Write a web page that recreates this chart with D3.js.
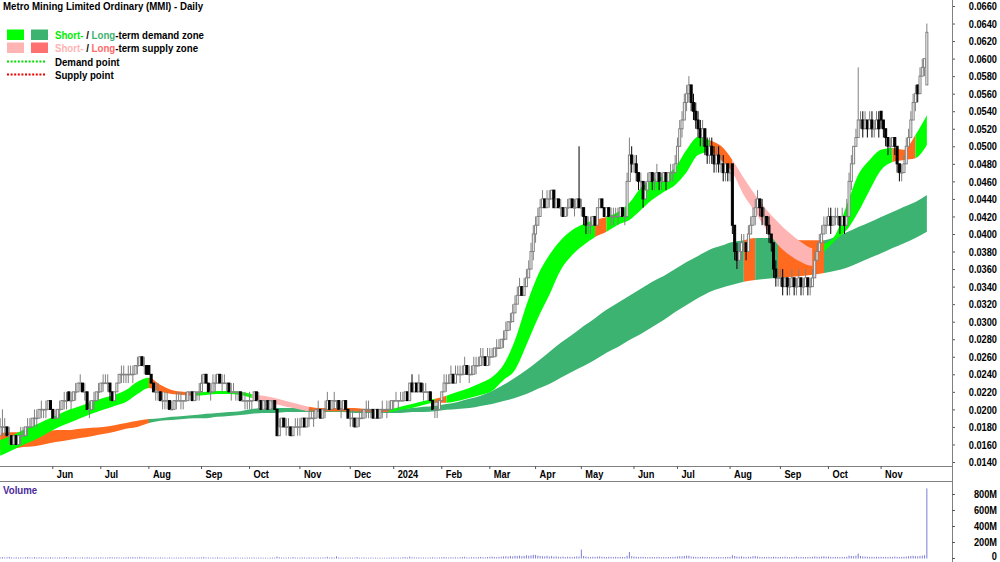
<!DOCTYPE html>
<html>
<head>
<meta charset="UTF-8">
<title>MMI daily</title>
<script src="https://d3js.org/d3.v7.min.js"></script>
<style>
  body { margin: 0; background: #fff; }
  text { font-family: "Liberation Sans", Arial, sans-serif; }
</style>
</head>
<body>
<script>
// prices in thousandths of a dollar (0.001 = 1), one value per trading day, May 2023 - Nov 2024
var openP = [
  17,18,18,18,17,17,16,17,16,17,17,17,18,18,18,19,19,19,20,20,20,20,21,      // May 23
  20,19,19,20,20,21,21,22,21,21,22,22,23,23,22,22,20,20,21,21,22,            // Jun
  22,23,23,23,23,22,21,22,23,24,24,24,24,24,24,24,25,25,26,25,25,            // Jul
  25,24,23,22,22,22,21,21,21,21,20,20,21,21,21,21,21,21,22,22,21,22,22,      // Aug
  22,23,24,23,22,22,23,23,24,23,23,23,23,22,22,22,22,22,21,21,21,            // Sep
  21,21,21,22,21,21,20,21,21,20,21,21,20,17,18,19,18,18,18,17,18,18,         // Oct
  18,18,19,18,19,19,19,19,20,20,19,20,20,21,20,21,21,21,20,20,21,20,         // Nov
  19,19,19,18,19,19,19,20,20,20,20,19,20,19,20,20,20,20,20,                  // Dec
  21,21,21,21,21,21,22,21,23,22,23,22,23,22,22,22,22,21,20,20,20,            // Jan 24
  21,22,23,23,23,24,23,24,24,24,24,25,24,24,24,25,25,25,26,26,25,            // Feb
  26,26,26,27,27,27,28,28,29,30,30,31,32,33,34,33,34,35,36,38,               // Mar
  40,41,42,43,44,43,44,44,45,43,44,43,43,42,43,43,44,43,43,44,               // Apr
  43,43,42,41,41,41,42,41,43,44,43,42,43,42,42,42,42,42,43,42,42,46,49,      // May
  48,48,47,46,46,44,45,46,47,46,46,47,46,46,47,46,47,47,47,                  // Jun
  48,50,52,53,55,56,57,55,54,53,52,51,52,50,49,50,49,48,49,48,48,47,48,      // Jul
  47,48,41,38,37,38,39,39,38,40,41,42,43,44,43,42,42,41,40,39,36,35,         // Aug
  35,35,34,35,34,34,35,34,34,35,34,34,35,34,34,35,37,38,39,40,41,            // Sep
  41,42,41,42,42,42,41,42,41,42,46,48,50,51,53,53,52,53,52,53,52,52,53,      // Oct
  54,53,52,51,50,50,51,50,48,47,47,48,50,51,53,55,57,56,58,59,57             // Nov
];
var highP = [
  19,20,19,18,18,17,17,17,17,18,18,18,19,19,19,20,20,20,21,20,21,21,21,
  20,20,20,21,21,22,22,22,22,22,23,23,24,23,23,22,21,21,22,22,23,
  23,24,24,24,23,22,22,23,24,25,25,24,25,25,25,25,26,26,26,26,25,
  25,24,23,23,23,22,22,22,22,21,21,21,22,22,22,21,22,22,22,22,22,22,23,
  24,24,24,23,23,24,24,24,24,24,24,23,23,23,23,22,22,22,22,22,21,
  22,21,22,22,22,21,21,21,21,21,21,21,20,19,19,19,19,19,18,18,19,19,
  19,19,19,19,20,20,20,20,21,20,20,21,22,21,21,22,21,21,21,21,21,20,
  20,20,19,19,20,20,20,21,21,20,20,20,20,20,21,20,21,21,21,
  21,22,21,22,22,22,22,23,24,23,23,24,23,23,23,22,22,21,21,21,21,
  22,24,24,24,25,24,25,25,25,25,26,25,25,25,26,26,26,27,27,26,27,
  27,27,27,28,28,28,29,30,30,31,32,33,34,35,34,35,36,37,39,41,
  42,43,44,45,44,45,45,45,45,44,44,44,43,43,44,44,44,44,44,50,
  44,43,42,42,42,42,42,43,44,44,43,43,43,43,43,43,43,43,43,43,47,51,50,
  49,49,47,47,46,46,47,47,47,47,48,47,47,47,47,47,48,48,49,
  51,53,54,56,57,58,57,56,55,54,53,53,52,51,51,51,50,50,50,49,49,48,48,
  48,48,41,39,39,40,40,39,41,42,43,44,45,44,44,43,42,42,40,39,37,36,
  36,36,35,35,35,36,35,35,36,35,35,36,35,35,36,38,39,40,41,42,42,
  43,43,42,43,43,42,43,42,44,47,49,50,52,59,54,54,54,53,54,54,53,54,54,
  54,53,52,51,51,51,51,50,48,48,49,51,52,54,56,57,57,59,60,60,64
];
var lowP = [
  17,17,17,17,16,16,16,16,16,16,17,17,17,18,18,18,18,19,19,19,19,20,20,
  19,19,19,19,20,20,20,21,20,21,21,22,22,22,21,20,19,20,20,21,21,
  22,22,23,22,21,21,21,22,23,23,23,23,23,24,23,24,24,25,25,24,24,
  24,23,22,21,21,21,20,20,20,20,20,20,20,21,20,20,21,21,21,21,21,21,21,
  22,23,23,22,21,22,22,23,23,22,23,22,22,21,22,21,21,21,21,20,20,
  20,20,21,21,20,20,20,20,20,20,20,20,17,17,18,18,17,17,17,17,18,17,
  17,18,18,18,18,19,18,19,19,19,19,19,20,20,20,20,20,20,19,20,20,19,
  18,18,18,18,18,19,19,19,19,19,19,19,19,19,19,20,19,20,20,
  20,21,20,21,21,21,21,21,22,22,22,22,22,21,22,21,21,20,19,19,20,
  21,22,22,23,23,23,23,24,23,24,24,24,23,24,24,24,25,25,25,25,25,
  25,26,26,26,27,27,27,28,29,29,30,31,32,33,33,33,34,35,36,37,
  39,41,42,43,43,43,43,44,43,43,43,42,42,42,42,43,43,42,43,43,
  42,41,40,40,40,41,41,41,43,43,42,42,42,41,41,42,41,42,42,41,42,46,47,
  47,46,45,45,43,44,45,46,45,45,46,45,45,46,45,46,46,46,47,
  48,50,51,53,54,55,54,53,52,51,50,50,49,48,48,48,47,47,47,47,46,46,46,
  46,40,37,36,36,37,38,37,38,40,41,41,43,42,41,41,40,39,38,35,34,34,
  34,33,34,33,33,34,33,33,34,33,33,34,33,33,34,35,37,38,39,40,40,
  41,40,41,41,41,40,41,40,41,42,45,48,50,51,52,51,52,51,52,51,51,52,51,
  52,51,50,49,49,50,49,47,46,46,47,48,50,51,53,54,55,56,58,58,57
];
var closeP = [
  18,18,18,17,17,16,17,16,17,17,17,18,18,18,19,19,19,20,20,20,20,21,20,
  19,19,20,20,21,21,21,21,21,22,22,23,23,22,22,20,20,21,21,22,22,
  23,23,23,23,22,21,22,23,24,24,24,24,24,24,24,25,25,26,25,25,24,
  24,23,22,22,22,21,21,21,21,20,20,21,21,21,21,21,21,22,22,21,22,22,22,
  23,24,23,22,22,23,23,24,23,23,23,23,22,22,22,22,22,21,21,21,21,
  21,21,22,21,21,20,21,21,20,21,21,20,17,18,19,18,18,18,17,18,18,18,
  18,19,18,19,19,19,19,20,20,19,20,20,21,20,21,21,21,20,20,21,20,19,
  19,19,18,19,19,19,20,20,20,20,19,20,19,20,20,20,20,20,21,
  21,21,21,21,21,22,21,23,22,23,22,23,22,22,22,22,21,20,20,20,21,
  22,23,23,23,24,23,24,24,24,24,25,24,24,24,25,25,25,26,26,25,26,
  26,26,27,27,27,28,28,29,30,30,31,32,33,34,33,34,35,36,38,40,
  41,42,43,44,43,44,44,45,43,44,43,43,42,43,43,44,43,43,44,43,
  43,42,41,41,41,42,41,43,44,43,42,43,42,42,42,42,42,43,42,42,46,49,48,
  48,47,46,46,44,45,46,47,46,46,47,46,46,47,46,47,47,47,48,
  50,52,53,55,56,57,55,54,53,52,51,52,50,49,50,49,48,49,48,48,47,48,47,
  47,41,38,37,38,39,39,38,40,41,42,43,44,43,42,42,41,40,39,36,35,35,
  35,34,35,34,34,35,34,34,35,34,34,35,34,34,35,37,38,39,40,41,41,
  42,41,42,42,42,41,42,41,42,46,48,50,51,53,53,52,53,52,53,52,52,53,52,
  53,52,51,50,50,51,50,48,47,47,48,50,51,53,55,56,56,58,59,60,63
];
// volume, millions of shares
var volumeM = [
  8,12,6,9,15,7,5,10,6,8,4,9,12,7,5,11,6,8,9,5,7,6,10,
  5,7,4,9,6,8,12,5,6,7,9,4,6,8,5,10,7,6,5,8,6,
  9,6,5,7,11,8,6,9,7,5,6,8,10,7,12,9,6,14,8,7,6,
  9,7,5,6,4,8,5,6,3,7,5,4,6,5,8,4,5,6,9,4,5,6,7,
  8,12,6,5,4,7,5,9,6,4,5,3,6,4,5,7,4,3,5,4,6,
  5,4,7,3,5,6,4,5,3,4,6,5,18,9,6,5,4,7,5,12,6,4,
  5,8,6,4,9,5,6,4,7,5,6,8,15,6,9,5,22,7,5,4,6,5,
  6,4,5,12,4,5,7,4,3,6,4,5,3,4,2,3,4,5,6,
  8,5,6,4,9,12,6,18,9,7,6,8,5,6,4,5,7,9,6,5,7,
  9,12,8,6,10,7,8,6,9,12,15,8,7,9,10,8,11,14,9,8,12,
  15,18,12,10,14,16,20,22,18,25,20,28,24,30,22,26,35,28,32,40,
  38,30,25,22,20,28,18,24,16,20,15,14,18,12,16,14,12,15,20,18,
  105,25,18,14,12,16,13,18,20,15,14,12,16,13,11,15,12,14,13,12,28,75,22,
  18,15,12,14,16,12,10,14,12,11,13,15,10,12,11,14,12,13,16,
  18,22,20,25,30,28,18,15,14,12,13,16,12,14,11,13,10,12,14,11,10,12,15,
  14,35,25,18,16,20,14,12,16,15,22,25,18,14,12,13,11,14,12,16,14,12,
  14,12,16,11,10,13,12,18,10,14,12,11,13,12,15,20,16,14,18,22,16,
  18,14,12,15,13,11,14,12,16,30,25,22,30,55,25,20,18,16,14,15,13,16,14,
  15,13,14,12,16,12,18,14,12,15,16,18,22,25,28,24,20,26,30,35,870
];

// zone edges, read every 5th trading day (same units as prices)
var bandStep = 5;
var shortUpper = [
  16.5,17.0,17.65,18.2,18.8,19.35,19.95,20.4,20.85,21.3,
  21.65,22.2,23.15,23.6,22.8,22.2,22.0,21.9,22.0,22.1,
  22.1,22.0,21.75,21.55,21.3,20.95,20.6,20.3,20.15,20.15,
  20.15,20.15,20.05,20.05,20.05,20.3,20.6,20.95,21.2,21.55,
  22.0,22.45,23.0,23.7,25.1,27.9,31.9,35.3,37.6,39.3,
  40.45,41.15,41.6,41.95,42.5,43.55,45.25,46.15,46.6,47.55,
  49.6,51.05,50.7,50.05,48.45,46.4,44.45,42.75,41.35,40.1,
  39.1,38.4,38.85,39.9,43.3,46.75,48.45,49.6,49.8,49.6,
  51.3,53.55
];
var shortLower = [
  14.7,15.3,15.95,16.5,17.2,17.9,18.45,19.0,19.5,19.95,
  20.4,20.85,21.75,22.45,22.0,21.75,21.65,21.55,21.65,21.75,
  21.75,21.65,21.3,20.95,20.6,20.3,20.05,19.8,19.8,19.8,
  19.8,19.8,19.7,19.7,19.7,19.95,20.15,20.5,20.75,20.75,
  20.95,21.3,21.65,22.1,23.35,24.5,27.35,30.4,33.05,35.9,
  37.6,38.75,39.65,40.25,41.05,41.6,42.75,43.9,44.8,45.6,
  47.05,49.0,49.35,48.45,47.05,44.45,42.5,40.45,38.75,37.6,
  36.8,36.35,37.95,39.3,40.45,42.5,45.0,47.3,48.2,48.45,
  48.65,50.15
];
var longUpper = [
  17.3,17.4,17.4,17.55,17.55,17.65,17.65,17.8,17.9,18.0,
  18.2,18.45,18.7,18.9,19.0,19.15,19.25,19.35,19.5,19.6,
  19.7,19.8,20.05,20.15,20.15,20.15,20.15,20.15,20.15,20.05,
  20.05,20.05,20.05,20.05,20.05,20.05,20.15,20.3,20.4,20.6,
  20.85,21.2,21.55,22.1,22.8,23.6,24.5,25.5,26.55,27.6,
  28.5,29.5,30.4,31.35,32.15,32.95,33.75,34.55,35.2,36.0,
  36.8,37.5,38.2,38.65,39.1,39.3,39.55,39.55,39.55,39.45,
  39.3,39.3,39.3,39.65,40.2,40.8,41.35,41.95,42.5,43.1,
  43.65,44.45
];
var longLower = [
  15.4,15.5,15.7,15.8,16.05,16.3,16.5,16.75,16.95,17.2,
  17.45,17.8,18.0,18.45,18.7,18.8,18.9,19.0,19.0,19.15,
  19.25,19.35,19.5,19.6,19.6,19.7,19.7,19.7,19.7,19.7,
  19.7,19.6,19.6,19.6,19.6,19.6,19.7,19.7,19.8,19.95,
  20.05,20.15,20.4,20.6,20.95,21.3,21.75,22.35,22.9,23.6,
  24.3,24.95,25.65,26.45,27.1,27.9,28.6,29.4,30.2,31.1,
  31.9,32.7,33.4,33.85,34.2,34.55,34.75,34.9,35.0,35.1,
  35.2,35.35,35.55,35.8,36.15,36.7,37.25,37.8,38.4,38.95,
  39.55,40.25
];
// zone state from each sample to the next: g = demand, p = short-term supply, o = supply (orange)
var shortZone = "ggggggggggggg" + "oooo" + "ggggg" + "ppppp" + "ooooooo" + "gggg" + "o" +
                "ggggggggggggg" + "o" + "ggggggggg" + "oo" + "ppppppp" + "o" + "gggggg" + "oo" + "gg";
var longZone  = "ooooooooooooo" + "gggggggggggggggggggggggggggggggggggggggggggggggggggg" +
                "o" + "gg" + "oooo" + "gggggggggg";

var priceTicks = d3.range(14, 67, 2);
var volTicks = [0, 200, 400, 600, 800];
var holidays = ["2023-06-12", "2023-12-25", "2023-12-26", "2024-01-01", "2024-01-26",
                "2024-03-29", "2024-04-01", "2024-04-25", "2024-06-10"];

var zoneColour = {
  short: { g: "#00ff00", p: "#ffb4b4", o: "#ff6a1e" },
  long:  { g: "#3cb371", o: "#ff6a1e" }
};
var SQ = 0.88;   // text in the reference is horizontally squeezed

var W = 1000, H = 562;
var svg = d3.select("body").append("svg").attr("width", W).attr("height", H);

var fmtDay = d3.timeFormat("%Y-%m-%d");
var days = d3.timeDay.range(new Date(2023, 4, 1), new Date(2024, 10, 30))
  .filter(function(d) { return d.getDay() > 0 && d.getDay() < 6 && holidays.indexOf(fmtDay(d)) < 0; })
  .slice(0, closeP.length);

var x = d3.scaleBand().domain(days.map(fmtDay)).range([-1, 928]);
var bw = x.bandwidth();
function xc(i) { return x(fmtDay(days[i])) + bw / 2; }

var y = d3.scaleLinear().domain([14, 66]).range([462, 6]);
var yv = d3.scaleLinear().domain([0, 800]).range([558, 494]);

function label(g, px, py, s, size, weight, anchor, fill) {
  return g.append("text")
    .attr("transform", "translate(" + px + "," + py + ") scale(" + SQ + ",1)")
    .attr("font-size", size).attr("font-weight", weight)
    .attr("text-anchor", anchor || "start").attr("fill", fill || "#000")
    .text(s);
}

// ---- zones
var defs = svg.append("defs");
var clipId = 0;
function drawBand(upper, lower, states, colours) {
  var pts = upper.map(function(u, k) { return { i: Math.min(k * bandStep, days.length - 1), hi: u, lo: lower[k] }; });
  var area = d3.area()
    .x(function(d) { return xc(d.i); })
    .y0(function(d) { return y(d.lo); })
    .y1(function(d) { return y(d.hi); })
    .curve(d3.curveMonotoneX);
  var k = 0;
  while (k < pts.length - 1) {
    var s = states.charAt(k), e = k;
    while (e + 1 < pts.length - 1 && states.charAt(e + 1) === s) e++;
    var x0 = k === 0 ? -2 : xc(pts[k].i);
    var x1 = e + 1 >= pts.length - 1 ? W : xc(pts[e + 1].i);
    var id = "zc" + (clipId++);
    defs.append("clipPath").attr("id", id).append("rect")
      .attr("x", x0).attr("y", 0).attr("width", x1 - x0).attr("height", 466);
    svg.append("path").attr("d", area(pts)).attr("fill", colours[s])
      .attr("clip-path", "url(#" + id + ")");
    k = e + 1;
  }
}
drawBand(longUpper, longLower, longZone, zoneColour.long);
drawBand(shortUpper, shortLower, shortZone, zoneColour.short);

// ---- candles
var bars = svg.append("g");
closeP.forEach(function(c, i) {
  var o = openP[i], up = c >= o, cx = xc(i);
  var col = up ? "#808080" : "#000";
  bars.append("line")
    .attr("x1", cx).attr("x2", cx)
    .attr("y1", y(highP[i])).attr("y2", y(lowP[i]))
    .attr("stroke", col).attr("stroke-width", 1);
  var top = y(Math.max(o, c)), h = Math.max(Math.abs(y(o) - y(c)), 0.5);
  bars.append("rect")
    .attr("x", cx - 1).attr("y", top).attr("width", 2).attr("height", h)
    .attr("fill", up ? "#fff" : "#000").attr("stroke", col).attr("stroke-width", 1);
});

// ---- price axis
var yAxis = svg.append("g").attr("transform", "translate(952,0)")
  .call(d3.axisRight(y).tickValues(priceTicks).tickSize(3).tickSizeOuter(0)
    .tickFormat(function(v) { return (v / 1000).toFixed(4); }));
yAxis.select(".domain").remove();
yAxis.selectAll("line").attr("stroke", "#555");
yAxis.selectAll("text").attr("x", null).attr("dy", "0.35em")
  .attr("text-anchor", "end").attr("font-size", 10.5).attr("font-weight", "bold")
  .attr("font-family", null).attr("fill", "#000")
  .attr("transform", "translate(45,0) scale(" + SQ + ",1)");

// ---- date axis band
svg.append("line").attr("x1", 0).attr("x2", 952).attr("y1", 466.5).attr("y2", 466.5).attr("stroke", "#808080");
svg.append("line").attr("x1", 0).attr("x2", 952).attr("y1", 481.5).attr("y2", 481.5).attr("stroke", "#808080");
var monthStarts = days.filter(function(d, i) { return i > 0 && d.getMonth() !== days[i - 1].getMonth(); });
var xAxis = svg.append("g").attr("transform", "translate(0,466)")
  .call(d3.axisBottom(x).tickValues(monthStarts.map(fmtDay)).tickSize(3).tickSizeOuter(0)
    .tickFormat(function(s) {
      var d = d3.timeParse("%Y-%m-%d")(s);
      return d.getMonth() === 0 ? d3.timeFormat("%Y")(d) : d3.timeFormat("%b")(d);
    }));
xAxis.select(".domain").remove();
xAxis.selectAll("line").attr("stroke", "#555");
xAxis.selectAll("text").attr("y", null).attr("dy", null)
  .attr("text-anchor", "start").attr("font-size", 10.5).attr("font-weight", "bold")
  .attr("font-family", null).attr("fill", "#000")
  .attr("transform", "translate(4,12) scale(" + SQ + ",1)");

svg.append("line").attr("x1", 952.5).attr("x2", 952.5).attr("y1", 0).attr("y2", H).attr("stroke", "#808080");

// ---- volume
var vol = svg.append("g");
volumeM.forEach(function(v, i) {
  vol.append("line")
    .attr("x1", xc(i)).attr("x2", xc(i))
    .attr("y1", yv(0) + 0.5).attr("y2", yv(v))
    .attr("stroke", "#7b7bd6").attr("stroke-width", 1);
});
var vAxis = svg.append("g").attr("transform", "translate(952,0)")
  .call(d3.axisRight(yv).tickValues(volTicks).tickSize(3).tickSizeOuter(0)
    .tickFormat(function(v) { return v === 0 ? "0" : v + "M"; }));
vAxis.select(".domain").remove();
vAxis.selectAll("line").attr("stroke", "#555");
vAxis.selectAll("text").attr("x", null).attr("dy", "0.35em")
  .attr("text-anchor", "end").attr("font-size", 10.5).attr("font-weight", "bold")
  .attr("font-family", null).attr("fill", "#000")
  .attr("transform", function(v) { return "translate(45," + (v === 0 ? -2 : 0) + ") scale(" + SQ + ",1)"; });
label(svg, 3, 494, "Volume", 11, "bold", "start", "#4b2a9c");

// ---- title and legend
label(svg, 3, 10, "Metro Mining Limited Ordinary (MMI) - Daily", 11, "bold");

var lg = svg.append("g");
lg.append("rect").attr("x", 7).attr("y", 29.5).attr("width", 17).attr("height", 10.5).attr("fill", "#00ff00");
lg.append("rect").attr("x", 31).attr("y", 29.5).attr("width", 17).attr("height", 10.5).attr("fill", "#3cb371");
lg.append("rect").attr("x", 7).attr("y", 42.5).attr("width", 17).attr("height", 10.5).attr("fill", "#ffb4b4");
lg.append("rect").attr("x", 31).attr("y", 42.5).attr("width", 17).attr("height", 10.5).attr("fill", "#ff7070");
lg.append("line").attr("x1", 7).attr("x2", 45).attr("y1", 61.5).attr("y2", 61.5)
  .attr("stroke", "#00dd00").attr("stroke-width", 2).attr("stroke-dasharray", "2,1.6");
lg.append("line").attr("x1", 7).attr("x2", 45).attr("y1", 74.5).attr("y2", 74.5)
  .attr("stroke", "#ee0000").attr("stroke-width", 2).attr("stroke-dasharray", "2,1.6");

var t1 = label(lg, 55, 39, "", 11, "bold");
t1.append("tspan").attr("fill", "#00ee00").text("Short-");
t1.append("tspan").text(" / ");
t1.append("tspan").attr("fill", "#3cb371").text("Long");
t1.append("tspan").text("-term demand zone");
var t2 = label(lg, 55, 52, "", 11, "bold");
t2.append("tspan").attr("fill", "#ffb4b4").text("Short-");
t2.append("tspan").text(" / ");
t2.append("tspan").attr("fill", "#ff6a6a").text("Long");
t2.append("tspan").text("-term supply zone");
label(lg, 55, 66, "Demand point", 11, "bold");
label(lg, 55, 79, "Supply point", 11, "bold");
</script>
</body>
</html>
